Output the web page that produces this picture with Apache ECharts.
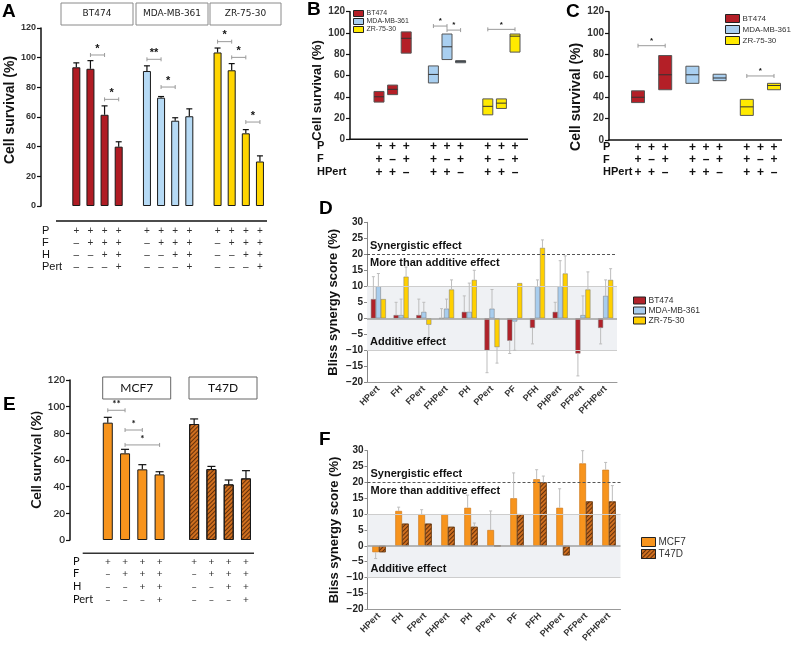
<!DOCTYPE html>
<html><head><meta charset="utf-8">
<script src="https://cdn.jsdelivr.net/npm/echarts@6/dist/echarts.min.js"></script>
<style>html,body{margin:0;padding:0;background:#fff}#c{width:791px;height:646px}</style>
</head><body><div id="c"></div>
<script>
// ================= DATA =================
// Panel A
const aGroups = ['BT474', 'MDA-MB-361', 'ZR-75-30'];
const aCombos = ['P', 'PF', 'PFH', 'PFHPert'];
const aRowP = ['+', '+', '+', '+'];
const aRowF = ['–', '+', '+', '+'];
const aRowH = ['–', '–', '+', '+'];
const aRowPert = ['–', '–', '–', '+'];
const aBT474 = [93.5, 92.5, 61.5, 40];
const aBT474Sd = [3, 5.5, 6, 3.3];
const aMDA = [91, 73, 57.5, 60.5];
const aMDASd = [3.5, 0.8, 2, 5];
const aZR = [103.5, 91.5, 49, 30];
const aZRSd = [3, 4.5, 2.5, 3.8];
const aSig = [[0, 1, 2, 101.8, '*'], [0, 2, 3, 71.9, '*'], [1, 0, 1, 98.9, '**'], [1, 1, 2, 80.2, '*'],
              [2, 0, 1, 110.8, '*'], [2, 1, 2, 100.2, '*'], [2, 2, 3, 56.6, '*']];

// Panels B and C
const bcGroups = ['BT474', 'MDA-MB-361', 'ZR-75-30'];
const bcCombos = ['PFHPert', 'PHPert', 'PF'];
const bcRowP = ['+', '+', '+'];
const bcRowF = ['+', '–', '+'];
const bcRowHPert = ['+', '+', '–'];
// [min, median, max]
const bBT474 = [[35, 40, 45], [42, 47, 51], [81, 95, 101]];
const bMDA = [[53, 61, 69], [75, 87, 99], [72, 73, 74]];
const bZR = [[23, 31, 38], [29, 34, 38], [82, 97, 99]];
const bSig = [[1, 0, 1, 106.5, '*'], [1, 1, 2, 102.7, '*'], [2, 0, 2, 103.4, '*']];
const cBT474 = [[35, 40, 46], null, [47, 61, 79]];
const cMDA = [[53, 61, 69], null, [55.5, 58, 61.5]];
const cZR = [[23, 31, 38], null, [47, 51, 53]];
const cSig = [[0, 0, 2, 88.2, '*'], [2, 0, 2, 59.9, '*']];

// Panel D
const dCats = ['HPert', 'FH', 'FPert', 'FHPert', 'PH', 'PPert', 'PF', 'PFH', 'PHPert', 'PFPert', 'PFHPert'];
const dBT474 = [6, 1, 1, 0, 2, -10, -7, -3, 2, -11, -3];
const dBT474Sd = [7, 4, 5, 3, 5, 7, 4, 5, 3, 7, 5];
const dMDA = [10, 1, 2, 3, 2, 3, -1, 10, 10, 1, 7];
const dMDASd = [4, 5, 3, 3, 9, 6, 9, 2, 8, 6, 5];
const dZR = [6, 13, -2, 9, 12, -9, 11, 22, 14, 9, 12];
const dZRSd = [null, 3, 5, 3, 3, 5, null, 2.5, 5.5, 5.5, 3.5];

// Panel E
const eGroups = ['MCF7', 'T47D'];
const eRowP = ['+', '+', '+', '+'];
const eRowF = ['–', '+', '+', '+'];
const eRowH = ['–', '–', '+', '+'];
const eRowPert = ['–', '–', '–', '+'];
const eMCF7 = [88, 65, 53, 49.2];
const eMCF7Sd = [4, 3, 3.5, 2];
const eT47D = [87, 53.2, 41.7, 46.2];
const eT47DSd = [3.8, 2, 3.3, 5.8];
const eSig = [[0, 0, 1, 97.3, '**'], [0, 1, 2, 82.5, '*'], [0, 1, 3, 71.3, '*']];

// Panel F
const fMCF7 = [-2, 11, 10, 10, 12, 5, 15, 21, 12, 26, 24];
const fMCF7Sd = [2, 1.2, 1.4, null, 4, 6, 8, 3, 6, 4, 2.3];
const fT47D = [-2, 7, 7, 6, 6, 0, 10, 20, -3, 14, 14];
const fT47DSd = [null, null, null, null, 1.2, null, null, 2, null, null, 5];

const effectLabels = ['Synergistic effect', 'More than additive effect', 'Additive effect'];

// ================= HELPERS =================
const FONT = '"Liberation Sans", Arial, sans-serif';
const FONT_E = 'Lato, "Liberation Sans", sans-serif';
const C = {
  aRed: '#b01c24', aBlue: '#b6daf5', aYel: '#ffd500',
  bRed: '#b41f27', bBlue: '#a9cff0', bYel: '#ffea00',
  dRed: '#b0222a', dBlue: '#a8cdee', dYel: '#ffd000',
  org: '#f7941d', brn: '#cf6f1f'
};
const hatch = { symbol: 'rect', symbolSize: 1, dashArrayX: [1, 0], dashArrayY: [1, 1.3], rotation: -Math.PI / 4, color: 'rgba(55,22,0,0.7)' };

// Panel A categories
const aCats = ['lead0', 'lead1'];
const aSlot = [null, null];
aGroups.forEach((g, gi) => {
  aCombos.forEach((c, m) => { aCats.push(g + ' ' + c); aSlot.push(m); });
  if (gi < aGroups.length - 1) { aCats.push('gap' + gi); aSlot.push(null); }
});
const aIdx = (g, m) => 2 + g * 5 + m;

const bcCats = ['lead'];
const bcSlot = [null];
bcGroups.forEach((g, gi) => {
  bcCombos.forEach((c, m) => { bcCats.push(g + ' ' + c); bcSlot.push(m); });
  if (gi < bcGroups.length - 1) { bcCats.push('gap' + gi); bcSlot.push(null); }
});
const bcIdx = (g, m) => 1 + g * 4 + m;

const eCats = ['lead0', 'lead1'];
const eSlot = [null, null];
eGroups.forEach((g, gi) => {
  eRowP.forEach((c, m) => { eCats.push(g + ' ' + m); eSlot.push(m); });
  if (gi < eGroups.length - 1) { eCats.push('gap' + gi); eSlot.push(null); }
});
const eIdx = (g, m) => 2 + g * 5 + m;

function groupBars(vals, idxFn, g, n) {
  const arr = new Array(n).fill('-');
  vals.forEach((v, m) => { arr[idxFn(g, m)] = v; });
  return arr;
}

function errSeries(ax, idxs, vals, sds, offset, cap, color, lw) {
  const data = [];
  vals.forEach((v, i) => {
    if (v == null || sds[i] == null) return;
    const dir = v < 0 ? -1 : 1;
    data.push([idxs[i], v, v + dir * sds[i]]);
  });
  return {
    type: 'custom', xAxisIndex: ax, yAxisIndex: ax, z: 5, silent: true,
    encode: { x: 0, y: [1, 2] }, data,
    renderItem: (p, api) => {
      const a = api.coord([api.value(0), api.value(1)]);
      const b = api.coord([api.value(0), api.value(2)]);
      const x = a[0] + offset;
      return { type: 'group', children: [
        { type: 'line', shape: { x1: x, y1: a[1], x2: x, y2: b[1] }, style: { stroke: color, lineWidth: lw } },
        { type: 'line', shape: { x1: x - cap, y1: b[1], x2: x + cap, y2: b[1] }, style: { stroke: color, lineWidth: lw } }
      ] };
    }
  };
}

function sigSeries(ax, sig, idxFn, fs, font) {
  const data = sig.map(s => [idxFn(s[0], s[1]), idxFn(s[0], s[2]), s[3]]);
  const labels = sig.map(s => s[4]);
  return {
    type: 'custom', xAxisIndex: ax, yAxisIndex: ax, z: 6, silent: true,
    encode: { x: [0, 1], y: 2 }, data,
    renderItem: (p, api) => {
      const a = api.coord([api.value(0), api.value(2)]);
      const b = api.coord([api.value(1), api.value(2)]);
      const y = a[1];
      return { type: 'group', children: [
        { type: 'line', shape: { x1: a[0], y1: y, x2: b[0], y2: y }, style: { stroke: '#9a9a9a', lineWidth: 1 } },
        { type: 'line', shape: { x1: a[0], y1: y - 2, x2: a[0], y2: y + 2 }, style: { stroke: '#9a9a9a', lineWidth: 1 } },
        { type: 'line', shape: { x1: b[0], y1: y - 2, x2: b[0], y2: y + 2 }, style: { stroke: '#9a9a9a', lineWidth: 1 } },
        { type: 'text', style: { text: labels[p.dataIndex], x: (a[0] + b[0]) / 2, y: y - 1, align: 'center', verticalAlign: 'bottom',
          fontSize: fs, fontWeight: 'bold', fill: '#111', fontFamily: font } }
      ] };
    }
  };
}

function boxSeries(name, ax, boxes, g, color, w) {
  const data = [];
  boxes.forEach((b, m) => { if (b) data.push([bcIdx(g, m), b[0], b[1], b[2]]); });
  return {
    name, type: 'custom', xAxisIndex: ax, yAxisIndex: ax, z: 4, silent: true,
    itemStyle: { color }, encode: { x: 0, y: [1, 2, 3] }, data,
    renderItem: (p, api) => {
      const lo = api.coord([api.value(0), api.value(1)]);
      const md = api.coord([api.value(0), api.value(2)]);
      const hi = api.coord([api.value(0), api.value(3)]);
      return { type: 'group', children: [
        { type: 'rect', shape: { x: hi[0] - w / 2, y: hi[1], width: w, height: lo[1] - hi[1] }, style: { fill: color, stroke: '#555', lineWidth: 1 } },
        { type: 'line', shape: { x1: hi[0] - w / 2, y1: md[1], x2: hi[0] + w / 2, y2: md[1] }, style: { stroke: '#333', lineWidth: 1 } }
      ] };
    }
  };
}

const axisDark = { show: true, lineStyle: { color: '#111', width: 1.5 } };
function survivalY(gi, font, fs, nameGap, pad, nameFs) {
  return {
    type: 'value', gridIndex: gi, min: 0, max: 120, interval: 20,
    axisLine: axisDark, axisTick: { show: true, length: 4, lineStyle: { color: '#111', width: 1.2 } },
    splitLine: { show: false },
    axisLabel: { fontSize: fs, fontWeight: 'bold', color: '#333', fontFamily: font, margin: 5 },
    name: 'Cell survival (%)', nameLocation: 'middle', nameGap,
    nameTextStyle: { fontSize: nameFs, fontWeight: 'bold', color: '#111', fontFamily: font, padding: pad }
  };
}
function blissY(gi) {
  return {
    type: 'value', gridIndex: gi, min: -20, max: 30, interval: 5,
    axisLine: { show: true, lineStyle: { color: '#888', width: 1 } },
    axisTick: { show: true, length: 3, lineStyle: { color: '#888' } },
    splitLine: { show: false },
    axisLabel: { fontSize: 10, fontWeight: 'bold', color: '#222', fontFamily: FONT, margin: 4,
      formatter: v => String(v).replace('-', '−') },
    name: 'Bliss synergy score (%)', nameLocation: 'middle', nameGap: 27,
    nameTextStyle: { fontSize: 13, fontWeight: 'bold', color: '#111', fontFamily: FONT }
  };
}
function blissX(gi) {
  return {
    type: 'category', gridIndex: gi, data: dCats,
    axisLine: { show: true, onZero: false, lineStyle: { color: '#999', width: 1 } },
    axisTick: { show: false },
    axisLabel: { interval: 0, rotate: 45, fontSize: 9, fontWeight: 'bold', color: '#333', fontFamily: FONT, margin: 5 }
  };
}
function bandSeries(ax) {
  const lbl = (txt, pos) => ({ show: true, position: pos, formatter: txt, color: '#111', fontWeight: 'bold', fontSize: 11, fontFamily: FONT, distance: 3 });
  return {
    type: 'line', xAxisIndex: ax, yAxisIndex: ax, data: [], z: 1, silent: true,
    markArea: { silent: true, itemStyle: { color: '#eff1f4' }, data: [[{ yAxis: -10 }, { yAxis: 10 }]] },
    markLine: { silent: true, symbol: 'none', animation: false, data: [
      { yAxis: 0, lineStyle: { color: '#a0a0a0', width: 1.5, type: 'solid' }, label: { show: false } },
      { yAxis: 10, lineStyle: { color: '#cdcdcd', width: 1, type: 'solid' }, label: { show: false } },
      { yAxis: -10, lineStyle: { color: '#cdcdcd', width: 1, type: 'solid' }, label: lbl(effectLabels[2], 'insideStartTop') },
      { yAxis: 20, lineStyle: { color: '#555', width: 1, type: [3, 2] }, label: lbl(effectLabels[0], 'insideStartTop') },
      { yAxis: 20, lineStyle: { color: 'rgba(0,0,0,0)', width: 0 }, label: lbl(effectLabels[1], 'insideStartBottom') }
    ] }
  };
}

function tableLabel(slots, rows) {
  return (v, i) => { const m = slots[i]; return m == null ? '' : rows.map(r => r[m]).join('\n'); };
}

// ================= OPTION =================
const grids = [
  { left: 41, top: 28, width: 226, height: 178 },
  { left: 358.6, top: 11.7, width: 163.2, height: 127.6 },
  { left: 617.6, top: 11.7, width: 163.2, height: 128.3 },
  { left: 367, top: 222.3, width: 250, height: 160 },
  { left: 64.6, top: 380, width: 190, height: 160 },
  { left: 367.5, top: 450.7, width: 253, height: 158.6 }
];

const xAxes = [
  { type: 'category', gridIndex: 0, data: aCats, axisLine: { show: false, onZero: false }, axisTick: { show: false },
    axisLabel: { interval: 0, margin: 19, lineHeight: 12, fontSize: 10, color: '#333', fontFamily: FONT, formatter: tableLabel(aSlot, [aRowP, aRowF, aRowH, aRowPert]) } },
  { type: 'category', gridIndex: 1, data: bcCats, axisLine: { show: false, onZero: false }, axisTick: { show: false },
    axisLabel: { interval: 0, margin: 1, lineHeight: 13, fontSize: 12, fontWeight: 'bold', color: '#111', fontFamily: FONT, formatter: tableLabel(bcSlot, [bcRowP, bcRowF, bcRowHPert]) } },
  { type: 'category', gridIndex: 2, data: bcCats, axisLine: { show: false, onZero: false }, axisTick: { show: false },
    axisLabel: { interval: 0, margin: 1, lineHeight: 12.7, fontSize: 12, fontWeight: 'bold', color: '#111', fontFamily: FONT, formatter: tableLabel(bcSlot, [bcRowP, bcRowF, bcRowHPert]) } },
  blissX(3),
  { type: 'category', gridIndex: 4, data: eCats, axisLine: { show: false, onZero: false }, axisTick: { show: false },
    axisLabel: { interval: 0, margin: 15, lineHeight: 12.8, fontSize: 10, color: '#333', fontFamily: FONT_E, formatter: tableLabel(eSlot, [eRowP, eRowF, eRowH, eRowPert]) } },
  blissX(5)
];

const yAxes = [
  survivalY(0, FONT, 9, 23, [0, 0, 0, 14], 14),
  Object.assign(survivalY(1, FONT, 10, 21, [0, 30, 0, 0], 13), { offset: 8.6 }),
  Object.assign(survivalY(2, FONT, 10, 21, [0, 42, 0, 0], 14), { offset: 8.6 }),
  blissY(3),
  Object.assign(survivalY(4, FONT_E, 10, 25, 0, 14), { offset: -5.4 }),
  blissY(5)
];

const series = [];
// A bars
[[aBT474, aBT474Sd, C.aRed, 'BT474'], [aMDA, aMDASd, C.aBlue, 'MDA-MB-361'], [aZR, aZRSd, C.aYel, 'ZR-75-30']].forEach((s, g) => {
  series.push({ name: 'A|' + s[3], type: 'bar', xAxisIndex: 0, yAxisIndex: 0, barWidth: 8, barGap: '-100%', silent: true,
    data: groupBars(s[0], aIdx, g, aCats.length), itemStyle: { color: s[2], borderColor: '#1a1a1a', borderWidth: 1 } });
  series.push(errSeries(0, s[0].map((v, m) => aIdx(g, m)), s[0], s[1], 0, 3, '#111', 1.2));
});
series.push(sigSeries(0, aSig, aIdx, 11, FONT));

// B and C boxes
[[bBT474, C.bRed, 'BT474'], [bMDA, C.bBlue, 'MDA-MB-361'], [bZR, C.bYel, 'ZR-75-30']].forEach((s, g) => {
  series.push(boxSeries('B|' + s[2], 1, s[0], g, s[1], 10));
});
series.push(sigSeries(1, bSig, bcIdx, 8, FONT));
[[cBT474, C.bRed, 'BT474'], [cMDA, C.bBlue, 'MDA-MB-361'], [cZR, C.bYel, 'ZR-75-30']].forEach((s, g) => {
  series.push(boxSeries('C|' + s[2], 2, s[0], g, s[1], 13));
});
series.push(sigSeries(2, cSig, bcIdx, 8, FONT));

// D
series.push(bandSeries(3));
const dIdx = dCats.map((c, i) => i);
[[dBT474, dBT474Sd, C.dRed, 'BT474'], [dMDA, dMDASd, C.dBlue, 'MDA-MB-361'], [dZR, dZRSd, C.dYel, 'ZR-75-30']].forEach((s, k) => {
  series.push({ name: 'D|' + s[3], type: 'bar', xAxisIndex: 3, yAxisIndex: 3, barWidth: 5, barGap: '0%', z: 3, silent: true,
    data: s[0], itemStyle: { color: s[2], borderColor: '#777', borderWidth: 0.5 } });
  series.push(errSeries(3, dIdx, s[0], s[1], (k - 1) * 5, 1.5, '#bdbdbd', 1));
});

// E
[[eMCF7, eMCF7Sd, 'MCF7', null], [eT47D, eT47DSd, 'T47D', hatch]].forEach((s, g) => {
  const st = { color: g === 0 ? C.org : C.brn, borderColor: '#1a1a1a', borderWidth: 1 };
  if (s[3]) st.decal = s[3];
  series.push({ name: 'E|' + s[2], type: 'bar', xAxisIndex: 4, yAxisIndex: 4, barWidth: 10, barGap: '-100%', silent: true,
    data: groupBars(s[0], eIdx, g, eCats.length), itemStyle: st });
  series.push(errSeries(4, s[0].map((v, m) => eIdx(g, m)), s[0], s[1], 0, 4, '#111', 1.2));
});
series.push(sigSeries(4, eSig, eIdx, 10, FONT_E));

// F
series.push(bandSeries(5));
[[fMCF7, fMCF7Sd, 'MCF7', null], [fT47D, fT47DSd, 'T47D', hatch]].forEach((s, k) => {
  const st = { color: k === 0 ? C.org : C.brn, borderColor: k === 0 ? '#c87010' : '#6a3a10', borderWidth: 0.6 };
  if (s[3]) st.decal = s[3];
  series.push({ name: 'F|' + s[2], type: 'bar', xAxisIndex: 5, yAxisIndex: 5, barWidth: 6.7, barGap: '0%', z: 3, silent: true,
    data: s[0], itemStyle: st });
  series.push(errSeries(5, dIdx, s[0], s[1], (k - 0.5) * 6.7, 1.5, '#bdbdbd', 1));
});

function legend(prefix, names, left, top, iw, ih, fs, gap) {
  return {
    data: names.map(n => prefix + '|' + n), left, top, orient: 'vertical', icon: 'rect',
    itemWidth: iw, itemHeight: ih, itemGap: gap, padding: 0, selectedMode: false,
    itemStyle: { borderColor: '#222', borderWidth: 1 },
    formatter: n => n.split('|')[1],
    textStyle: { fontSize: fs, color: '#333', fontFamily: FONT, padding: [0, 0, 0, -2] }
  };
}
const cellNames = ['BT474', 'MDA-MB-361', 'ZR-75-30'];

// ---------- annotations (graphic) ----------
const g = [];
function txt(text, x, y, fs, opts) {
  g.push({ type: 'text', left: x, top: y, silent: true,
    style: Object.assign({ text, fontSize: fs, fill: '#111', fontFamily: FONT }, opts || {}) });
}
// panel letters
[['A', 2, 2], ['B', 307, 0], ['C', 566, 2], ['D', 319, 199], ['E', 3, 395], ['F', 319, 430]].forEach(l =>
  txt(l[0], l[1], l[2], 19, { fontWeight: 'bold', fill: '#000' }));
// header boxes A
[[61, 72], [136, 72], [210, 71]].forEach((b, i) => {
  g.push({ type: 'rect', silent: true, shape: { x: b[0], y: 3, width: b[1], height: 22 }, style: { fill: '#fff', stroke: '#8a8a8a', lineWidth: 1 } });
  g.push({ type: 'text', silent: true, x: b[0] + b[1] / 2, y: 14, style: { text: aGroups[i], fontSize: 9, fill: '#222', fontFamily: '"DejaVu Sans", sans-serif', align: 'center', verticalAlign: 'middle' } });
});
// header boxes E
[[102.7, 68], [189, 68]].forEach((b, i) => {
  g.push({ type: 'rect', silent: true, shape: { x: b[0], y: 377, width: b[1], height: 22 }, style: { fill: '#fff', stroke: '#666', lineWidth: 1 } });
  g.push({ type: 'text', silent: true, x: b[0] + b[1] / 2, y: 388, style: { text: eGroups[i], fontSize: 12, fill: '#111', fontFamily: FONT_E, align: 'center', verticalAlign: 'middle' } });
});
// separator lines / axis baselines
g.push({ type: 'line', silent: true, shape: { x1: 56, y1: 221, x2: 267, y2: 221 }, style: { stroke: '#111', lineWidth: 1.5 } });
g.push({ type: 'line', silent: true, shape: { x1: 82.7, y1: 553.3, x2: 254, y2: 553.3 }, style: { stroke: '#333', lineWidth: 1.5 } });
g.push({ type: 'line', silent: true, shape: { x1: 349.3, y1: 139.3, x2: 528, y2: 139.3 }, style: { stroke: '#111', lineWidth: 1.5 } });
g.push({ type: 'line', silent: true, shape: { x1: 608.3, y1: 140, x2: 782, y2: 140 }, style: { stroke: '#111', lineWidth: 1.5 } });
// row labels
function rowLabels(names, x, ys, fs, font, weight) {
  names.forEach((n, i) => g.push({ type: 'text', silent: true, x, y: ys[i],
    style: { text: n, fontSize: fs, fill: '#111', fontFamily: font, fontWeight: weight, verticalAlign: 'middle' } }));
}
rowLabels(['P', 'F', 'H', 'Pert'], 42, [231, 243, 255, 267], 11, FONT, 'normal');
rowLabels(['P', 'F', 'HPert'], 317, [146, 159, 172], 11, FONT, 'bold');
rowLabels(['P', 'F', 'HPert'], 603, [147, 160, 172], 11, FONT, 'bold');
rowLabels(['P', 'F', 'H', 'Pert'], 73, [561, 573, 586, 599], 11, FONT_E, 'normal');

const option = {
  animation: false,
  backgroundColor: '#fff',
  grid: grids,
  xAxis: xAxes,
  yAxis: yAxes,
  legend: [
    legend('B', cellNames, 353, 10, 10, 6, 7, 1),
    legend('C', cellNames, 725, 14, 14, 8, 8, 2),
    legend('D', cellNames, 633, 296, 12, 7, 8.5, 1),
    legend('F', ['MCF7', 'T47D'], 641, 537, 14, 9, 10, 2)
  ],
  series,
  graphic: g
};
const chart = echarts.init(document.getElementById('c'), null, { renderer: 'canvas', width: 791, height: 646 });
chart.setOption(option);
</script>
</body></html>
